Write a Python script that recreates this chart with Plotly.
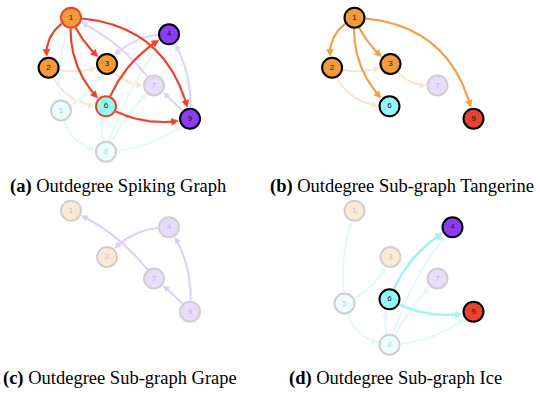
import numpy as np
import plotly.graph_objects as go

W, H = 540, 393

# ---- data -------------------------------------------------------------
node_ids = ["1", "2", "3", "4", "5", "6", "7", "8", "9"]
node_x = [71, 48.6, 107, 169, 61, 106, 154, 106, 190]
node_y = [17.7, 67.7, 64, 34.3, 110.5, 106.3, 85.5, 151.7, 118.7]

# directed edges (source, target, bend)
tangerine_edges = [("1", "2", 0.40), ("1", "3", 0.14), ("1", "6", 0.25), ("1", "9", -0.39)]
tangerine_faint_edges = [("2", "3", 0.18), ("2", "6", 0.35), ("3", "7", 0.30)]
grape_edges = [("4", "3", 0.25), ("7", "1", 0.14), ("9", "4", 0.18), ("9", "7", 0.05)]
ice_edges = [("6", "4", -0.19), ("6", "9", 0.20)]
ice_faint_edges = [("5", "1", -0.12), ("5", "3", 0.20), ("5", "8", 0.38), ("8", "6", -0.19),
                   ("8", "4", -0.11), ("8", "7", -0.08), ("8", "9", 0.18)]

captions = ["<b>(a)</b> Outdegree Spiking Graph",
            "<b>(b)</b> Outdegree Sub-graph Tangerine",
            "<b>(c)</b> Outdegree Sub-graph Grape",
            "<b>(d)</b> Outdegree Sub-graph Ice"]

# ---- styles -----------------------------------------------------------
ORANGE, PURPLE, CYAN, RED = "#F29B38", "#8A3CF6", "#93F9F7", "#E9432B"
F_OR, F_GR, F_ICE, GRAYB = "#FCE9D5", "#E8DCFC", "#EAFCFC", "#CFCFCF"
DARK, LIGHT = "#1a1a1a", "rgba(60,60,60,0.28)"

# node styles per panel: id -> (fill, border, textcolor)
panel_nodes = {
    "a": {"1": (ORANGE, RED, DARK), "2": (ORANGE, "black", DARK), "3": (ORANGE, "black", DARK),
          "4": (PURPLE, "black", DARK), "5": (F_ICE, GRAYB, LIGHT), "6": (CYAN, RED, DARK),
          "7": (F_GR, GRAYB, LIGHT), "8": (F_ICE, GRAYB, LIGHT), "9": (PURPLE, "black", DARK)},
    "b": {"1": (ORANGE, "black", DARK), "2": (ORANGE, "black", DARK), "3": (ORANGE, "black", DARK),
          "6": (CYAN, "black", DARK), "7": (F_GR, GRAYB, LIGHT), "9": (RED, "black", DARK)},
    "c": {"1": (F_OR, GRAYB, LIGHT), "3": (F_OR, GRAYB, LIGHT), "4": (F_GR, GRAYB, LIGHT),
          "7": (F_GR, GRAYB, LIGHT), "9": (F_GR, GRAYB, LIGHT)},
    "d": {"1": (F_OR, GRAYB, LIGHT), "3": (F_OR, GRAYB, LIGHT), "4": (PURPLE, "black", DARK),
          "5": (F_ICE, GRAYB, LIGHT), "6": (CYAN, "black", DARK), "7": (F_GR, GRAYB, LIGHT),
          "8": (F_ICE, GRAYB, LIGHT), "9": (RED, "black", DARK)},
}
# edge groups per panel: (edges, color, width, arrow length, arrow width)
panel_edges = {
    "a": [(tangerine_faint_edges, "#FBE4CD", 2.0, 6, 6),
          (ice_faint_edges, "#E2F9F9", 2.0, 6, 6),
          (grape_edges, "#DFD2FC", 2.0, 6, 6),
          (tangerine_edges + ice_edges, RED, 2.2, 7, 7)],
    "b": [(tangerine_faint_edges, "#FBE4CD", 2.0, 6, 6),
          (tangerine_edges, "#F0A049", 2.2, 7, 7)],
    "c": [(grape_edges, "#DCCEFC", 2.0, 6, 6)],
    "d": [(ice_faint_edges, "#E2F9F9", 2.0, 6, 6),
          (ice_edges, "#A0F4F2", 2.6, 7, 7)],
}
# panel placement in pixels (left, top)
panel_pos = {"a": (0, 0), "b": (283.5, 0), "c": (0, 193), "d": (283.5, 193)}
PW, PH = 250, 175
R = 11.5

pos = {k: np.array([x, y], float) for k, x, y in zip(node_ids, node_x, node_y)}


def edge_geometry(s, t, bend, al, aw):
    p0, p2 = pos[s], pos[t]
    d = p2 - p0
    L = np.hypot(*d)
    n = np.array([-d[1], d[0]]) / L
    ctrl = (p0 + p2) / 2 + bend * L * n
    tt = np.linspace(0, 1, 400)[:, None]
    pts = (1 - tt) ** 2 * p0 + 2 * (1 - tt) * tt * ctrl + tt ** 2 * p2
    d0 = np.hypot(*(pts - p0).T)
    d2 = np.hypot(*(pts - p2).T)
    pts = pts[(d0 >= R - 0.5) & (d2 >= R)]
    tip = pts[-1]
    u = tip - pts[-6]
    u = u / np.hypot(*u)
    base = tip - al * u
    pr = np.array([-u[1], u[0]])
    line = pts[np.hypot(*(pts - tip).T) >= al * 0.9]
    line = np.vstack([line, base + 0.5 * u])
    tri = np.array([tip, base + pr * aw / 2, base - pr * aw / 2, tip])
    return line, tri


fig = go.Figure()
layout_axes = {}
for i, key in enumerate(["a", "b", "c", "d"]):
    xa = "x" if i == 0 else f"x{i+1}"
    ya = "y" if i == 0 else f"y{i+1}"
    left, top = panel_pos[key]
    layout_axes["xaxis" if i == 0 else f"xaxis{i+1}"] = dict(
        domain=[left / W, (left + PW) / W], range=[0, PW], visible=False, anchor=ya)
    layout_axes["yaxis" if i == 0 else f"yaxis{i+1}"] = dict(
        domain=[1 - (top + PH) / H, 1 - top / H], range=[PH, 0], visible=False, anchor=xa)

    for edges, col, lw, al, aw in panel_edges[key]:
        lx, ly, tx, ty = [], [], [], []
        for s, t, b in edges:
            line, tri = edge_geometry(s, t, b, al, aw)
            lx += list(line[:, 0]) + [None]
            ly += list(line[:, 1]) + [None]
            tx += list(tri[:, 0]) + [None]
            ty += list(tri[:, 1]) + [None]
        fig.add_trace(go.Scatter(x=lx, y=ly, mode="lines", line=dict(color=col, width=lw),
                                 xaxis=xa, yaxis=ya, hoverinfo="skip", showlegend=False))
        fig.add_trace(go.Scatter(x=tx, y=ty, mode="lines", fill="toself", fillcolor=col,
                                 line=dict(color=col, width=0.5),
                                 xaxis=xa, yaxis=ya, hoverinfo="skip", showlegend=False))

    ids = list(panel_nodes[key].keys())
    sty = [panel_nodes[key][k] for k in ids]
    fig.add_trace(go.Scatter(
        x=[pos[k][0] for k in ids], y=[pos[k][1] for k in ids],
        mode="markers+text", text=ids, textposition="middle center",
        textfont=dict(family="Liberation Sans", size=8, color=[s[2] for s in sty]),
        marker=dict(size=20, color=[s[0] for s in sty],
                    line=dict(color=[s[1] for s in sty], width=2)),
        xaxis=xa, yaxis=ya, hoverinfo="skip", showlegend=False))

cap_pos = [(118, 186), (402, 186), (120, 378), (395, 378)]
annotations = []
for txt, (cx, cy) in zip(captions, cap_pos):
    annotations.append(dict(text=txt, x=cx / W, y=1 - cy / H, xref="paper", yref="paper",
                            showarrow=False, xanchor="center", yanchor="middle",
                            font=dict(family="Liberation Serif", size=18.5, color="black")))

fig.update_layout(width=W, height=H, margin=dict(l=0, r=0, t=0, b=0),
                  paper_bgcolor="white", plot_bgcolor="white", hovermode=False,
                  annotations=annotations, **layout_axes)
fig.write_html("out.html", config={"displayModeBar": False, "staticPlot": True},
               post_script="document.body.style.margin='0';document.body.style.overflow='hidden';")
